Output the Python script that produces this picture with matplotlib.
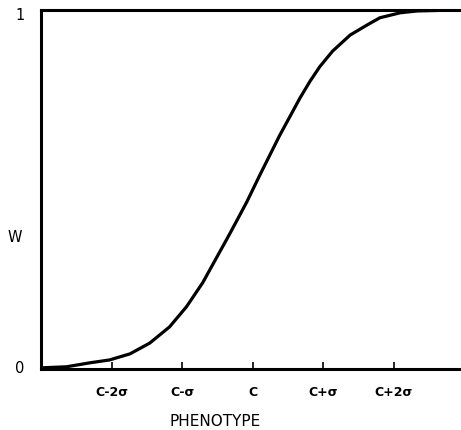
import matplotlib
matplotlib.use("Agg")
import matplotlib.pyplot as plt

# Fitness curve W against phenotype, in units of sigma from the optimum c
phenotype = [-3.01, -2.64, -2.31, -2.03, -1.74, -1.46, -1.18, -0.94, -0.71,
             -0.33, -0.085, 0.10, 0.38, 0.67, 0.81, 0.95, 1.13, 1.38,
             1.62, 1.80, 2.09, 2.33, 2.95]
fitness = [0.003, 0.006, 0.017, 0.025, 0.042, 0.072, 0.117, 0.173, 0.240,
           0.375, 0.465, 0.540, 0.650, 0.755, 0.801, 0.842, 0.885,
           0.930, 0.958, 0.978, 0.992, 0.997, 1.0]
xticks = [-2, -1, 0, 1, 2]
xticklabels = ["C-2\u03c3", "C-\u03c3", "C", "C+\u03c3", "C+2\u03c3"]
yticks = [0, 0.985]
yticklabels = ["0", "1"]

figure = plt.figure(figsize=(4.61, 4.30), dpi=100)
axes = figure.add_axes([0.089, 0.142, 0.911, 0.835])

axes.plot(phenotype, fitness, color="k", linewidth=2.3,
          solid_capstyle="round", solid_joinstyle="round")

axes.set_xlim(-3.0, 2.95)
axes.set_ylim(0, 1)
for side in ["left", "bottom", "top"]:
    axes.spines[side].set_linewidth(2.2)
axes.spines["right"].set_visible(False)

axes.set_xticks(xticks)
axes.set_xticklabels(xticklabels, fontsize=9, fontweight="bold")
axes.tick_params(axis="x", direction="in", length=5, width=1.2, pad=12)
axes.set_yticks([])

# y labels drawn as text so the top one is not clipped
for value, label in zip(yticks, yticklabels):
    axes.text(-0.05, value, label, transform=axes.get_yaxis_transform(),
              fontsize=10.5, ha="center", va="center")
axes.text(-0.063, 0.365, "W", transform=axes.transAxes, fontsize=10.5,
          ha="center", va="center")
axes.text(0.415, -0.145, "PHENOTYPE", transform=axes.transAxes,
          fontsize=11, ha="center", va="center")

figure.savefig("out.png", dpi=100)
